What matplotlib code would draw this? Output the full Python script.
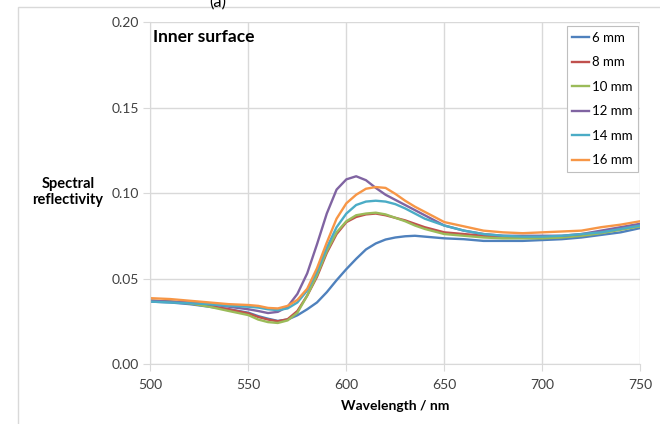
import matplotlib
matplotlib.use("Agg")
import matplotlib.pyplot as plt
from matplotlib.patches import Rectangle

plt.rcParams['font.family'] = ['Lato', 'DejaVu Sans']

# wavelength grid (nm)
wavelength = [500, 510, 520, 530, 540, 550, 555, 560, 565, 570, 575, 580, 585, 590,
              595, 600, 605, 610, 615, 620, 625, 630, 635, 640, 650, 660, 670, 680,
              690, 700, 710, 720, 730, 740, 750]

# spectral reflectivity per thickness
r_6mm = [.0365, .036, .035, .0335, .032, .030, .028, .0265, .0252, .026, .0285, .032,
         .036, .042, .049, .0555, .0615, .067, .0705, .0728, .074, .0747, .075, .0745,
         .0735, .073, .072, .072, .072, .0725, .073, .074, .0755, .077, .0795]
r_8mm = [.037, .0365, .0355, .034, .032, .0296, .0275, .026, .025, .0262, .031, .040,
         .051, .065, .076, .083, .086, .0875, .088, .087, .0855, .084, .082, .080,
         .077, .076, .075, .0745, .074, .074, .0745, .0755, .077, .079, .081]
r_10mm = [.037, .0365, .0355, .0335, .031, .0286, .026, .0245, .024, .0255, .030, .040,
          .052, .066, .077, .0835, .087, .088, .0885, .0875, .0855, .0835, .081, .079,
          .076, .075, .074, .0735, .0735, .0735, .074, .075, .0765, .0785, .0805]
r_12mm = [.037, .0365, .036, .035, .0335, .032, .031, .0298, .0305, .0335, .041, .053,
          .070, .088, .102, .108, .1098, .1075, .103, .099, .096, .093, .090, .087,
          .081, .078, .076, .075, .075, .075, .075, .076, .078, .080, .082]
r_14mm = [.0365, .036, .0355, .035, .034, .0335, .033, .032, .0315, .0325, .036, .043,
          .054, .068, .080, .088, .093, .095, .0955, .095, .0935, .091, .088, .085,
          .081, .078, .076, .075, .0745, .0745, .075, .076, .077, .079, .081]
r_16mm = [.0385, .038, .037, .036, .035, .0345, .034, .0328, .0325, .034, .0375, .044,
          .056, .071, .085, .094, .099, .1025, .1035, .103, .0995, .0955, .092, .089,
          .083, .0805, .078, .077, .0765, .077, .0775, .078, .080, .0815, .0835]

labels = ['6 mm', '8 mm', '10 mm', '12 mm', '14 mm', '16 mm']
series = [r_6mm, r_8mm, r_10mm, r_12mm, r_14mm, r_16mm]
colors = ['#4F81BD', '#C0504D', '#9BBB59', '#8064A2', '#4BACC6', '#F79646']

fig = plt.figure(figsize=(6.6, 4.24), dpi=100)
ax = fig.add_axes([0.228, 0.1415, 0.742, 0.8065])

# chart-area frame, partly outside the crop
fig.patches.append(Rectangle((18 / 660, -0.1), 1.2, 1.1 - 7 / 424, transform=fig.transFigure,
                             fill=False, edgecolor='#D9D9D9', linewidth=1.0))
fig.text(218 / 660, 0.995, '(a)', ha='center', va='center', fontsize=12)

for vals, lab, col in zip(series, labels, colors):
    ax.plot(wavelength, vals, color=col, linewidth=1.7, label=lab)

ax.set_xlim(500, 750)
ax.set_ylim(0, 0.20)
ax.set_xticks([500, 550, 600, 650, 700, 750])
ax.set_yticks([0.0, 0.05, 0.10, 0.15, 0.20])
ax.set_yticklabels(['0.00', '0.05', '0.10', '0.15', '0.20'])
ax.grid(True, color='#D9D9D9', linewidth=1.0)
ax.set_axisbelow(True)
for s in ax.spines.values():
    s.set_visible(False)
ax.spines['left'].set_visible(True)
ax.spines['bottom'].set_visible(True)
ax.spines['left'].set_color('#D9D9D9')
ax.spines['bottom'].set_color('#D9D9D9')
ax.tick_params(axis='both', length=5, color='#D9D9D9', labelsize=10, labelcolor='#404040')
ax.tick_params(axis='x', pad=6)

ax.set_xlabel('Wavelength / nm', fontsize=10, fontweight='bold', labelpad=6)
fig.text(68 / 660, 1 - 192 / 424, 'Spectral\nreflectivity', ha='center', va='center',
         fontsize=10.5, fontweight='bold', linespacing=1.1)

ax.text(0.006, 0.955, 'Inner surface', transform=ax.transAxes, ha='left', va='center',
        fontsize=12.5, fontweight='bold')

leg = ax.legend(loc='upper right', bbox_to_anchor=(1.0, 0.995), fontsize=9.5,
                frameon=True, fancybox=False, framealpha=1, edgecolor='#BFBFBF',
                handlelength=1.3, handletextpad=0.2, labelspacing=0.95,
                borderpad=0.4, borderaxespad=0.2)
leg.get_frame().set_linewidth(0.8)

fig.savefig('out.png', dpi=100)
